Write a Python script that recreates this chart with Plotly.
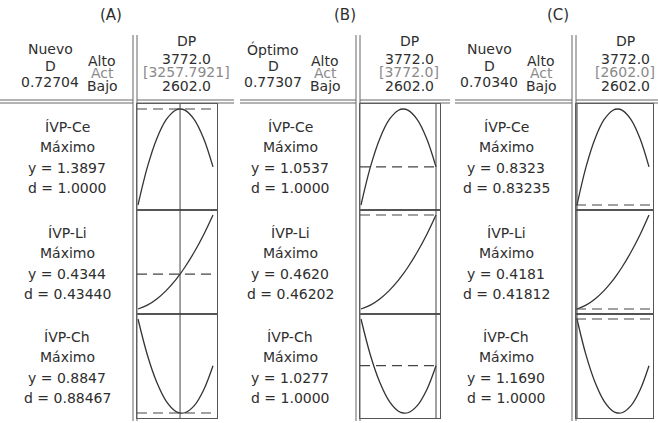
import plotly.graph_objects as go

# ---------------- data ----------------
DP_LOW, DP_HIGH = 2602.0, 3772.0
DP_GRID = [2602, 2748, 2895, 3041, 3187, 3258, 3333, 3480, 3626, 3772]
CE_CURVE = [0.8323, 1.0524, 1.2175, 1.3276, 1.3828, 1.3897, 1.3829, 1.3282, 1.2184, 1.0537]
LI_CURVE = [0.4181, 0.4199, 0.4228, 0.4267, 0.4316, 0.4344, 0.4376, 0.4447, 0.4528, 0.4620]
CH_CURVE = [1.1690, 1.0603, 0.9776, 0.9209, 0.8902, 0.8847, 0.8855, 0.9069, 0.9543, 1.0277]

PANEL_TITLES = ["(A)", "(B)", "(C)"]
SOLUTION_KIND = ["Nuevo", "Óptimo", "Nuevo"]
COMPOSITE_D = ["0.72704", "0.77307", "0.70340"]
DP_CURRENT = [3257.7921, 3772.0, 2602.0]
DP_CURRENT_LABEL = ["[3257.7921]", "[3772.0]", "[2602.0]"]
DP_HIGH_LABEL = "3772.0"
DP_LOW_LABEL = "2602.0"
FACTOR = "DP"
RESPONSES = ["ÍVP-Ce", "ÍVP-Li", "ÍVP-Ch"]
GOAL = "Máximo"
Y_CE = [1.3897, 1.0537, 0.8323]
Y_LI = [0.4344, 0.4620, 0.4181]
Y_CH = [0.8847, 1.0277, 1.1690]
D_CE = ["1.0000", "1.0000", "0.83235"]
D_LI = ["0.43440", "0.46202", "0.41812"]
D_CH = ["0.88467", "1.0000", "1.0000"]

CURVES = [CE_CURVE, LI_CURVE, CH_CURVE]
Y_CUR = [Y_CE, Y_LI, Y_CH]
D_CUR = [D_CE, D_LI, D_CH]

# ---------------- layout geometry (pixels) ----------------
W, H = 658, 423
PANEL_XV = [133, 356, 572]
PANEL_LEFT = [0, 240, 455]
PANEL_RIGHT = [234, 450, 658]
BOX_RIGHT = [217, 440, 653]
TITLE_X = [111, 345, 558]
ROW_EDGES = [104, 210, 314, 418]
PAD = 5

TXT = "#2e2e2e"
GRAY = "#8a8a8a"
LINE = "#555555"
FONT = "DejaVu Sans"


def px(x):
    return x / W


def py(y):
    return 1 - y / H


fig = go.Figure()
annotations = []
shapes = []


def ann(text, x, y, size=14, color=TXT):
    annotations.append(dict(text=text, x=px(x), y=py(y), xref="paper", yref="paper",
                            showarrow=False, xanchor="center", yanchor="middle",
                            font=dict(family=FONT, size=size, color=color)))


def pline(x0, y0, x1, y1, color="#666666", width=1):
    shapes.append(dict(type="line", xref="paper", yref="paper", x0=px(x0), y0=py(y0),
                       x1=px(x1), y1=py(y1), line=dict(color=color, width=width)))


for p in range(3):
    xv = PANEL_XV[p]
    L, R = xv + 4, BOX_RIGHT[p]
    a, b = xv + 5, BOX_RIGHT[p] - 4
    s = (b - a) / (DP_HIGH - DP_LOW)
    xr = [DP_LOW - (a - L) / s, DP_HIGH + (R - b) / s]

    # header texts
    ann(PANEL_TITLES[p], TITLE_X[p], 15, size=15)
    ann(SOLUTION_KIND[p], xv - 83, 49)
    ann("D", xv - 83, 66)
    ann(COMPOSITE_D[p], xv - 83, 82)
    ann("Alto", xv - 31, 61)
    ann("Act", xv - 31, 73, color=GRAY)
    ann("Bajo", xv - 31, 86)
    ann(FACTOR, xv + 53, 41)
    ann(DP_HIGH_LABEL, xv + 53, 59)
    ann(DP_CURRENT_LABEL[p], xv + 53, 72, color=GRAY)
    ann(DP_LOW_LABEL, xv + 53, 86)

    # separators
    pline(xv, 35, xv, 421)
    pline(xv + 4, 35, xv + 4, 421)
    for yy in (100, 103):
        pline(PANEL_LEFT[p], yy, xv, yy)
        pline(xv + 4, yy, PANEL_RIGHT[p], yy)

    for r in range(3):
        k = p * 3 + r + 1
        sfx = "" if k == 1 else str(k)
        top, bot = ROW_EDGES[r], ROW_EDGES[r + 1]
        curve = CURVES[r]
        lo = min(curve + Y_CUR[r])
        hi = max(curve + Y_CUR[r])
        sy = (bot - top - 2 * PAD) / (hi - lo)
        yr = [lo - PAD / sy, hi + PAD / sy]

        fig.add_trace(go.Scatter(x=DP_GRID, y=curve, mode="lines",
                                 line=dict(color="#333333", width=1.3, shape="spline"),
                                 xaxis="x" + sfx, yaxis="y" + sfx,
                                 hoverinfo="skip", showlegend=False))
        common = dict(showgrid=False, zeroline=False, showticklabels=False, ticks="",
                      showline=True, mirror=True, linecolor=LINE, linewidth=1,
                      fixedrange=True)
        fig.layout["xaxis" + sfx] = dict(domain=[px(L), px(R)], range=xr,
                                         anchor="y" + sfx, **common)
        fig.layout["yaxis" + sfx] = dict(domain=[py(bot), py(top)], range=yr,
                                         anchor="x" + sfx, **common)

        # current response value (dashed)
        shapes.append(dict(type="line", xref="x" + sfx + " domain", x0=0, x1=1,
                           yref="y" + sfx, y0=Y_CUR[r][p], y1=Y_CUR[r][p],
                           line=dict(color="#444444", width=1.2, dash="10px,6px")))
        # current factor setting (vertical)
        shapes.append(dict(type="line", xref="x" + sfx, x0=DP_CURRENT[p], x1=DP_CURRENT[p],
                           yref="y" + sfx + " domain", y0=0, y1=1,
                           line=dict(color="#444444", width=1)))

        # row labels
        cx = xv - 66
        ann(RESPONSES[r], cx, top + 23)
        ann(GOAL, cx, top + 43)
        ann("y = %.4f" % Y_CUR[r][p], cx, top + 64)
        ann("d = " + D_CUR[r][p], cx, top + 84)

fig.update_layout(width=W, height=H, margin=dict(l=0, r=0, t=0, b=0),
                  paper_bgcolor="white", plot_bgcolor="white",
                  annotations=annotations, shapes=shapes, showlegend=False)
fig.write_html("out.html", config={"displayModeBar": False},
               post_script="document.body.style.margin='0';document.body.style.overflow='hidden';")
